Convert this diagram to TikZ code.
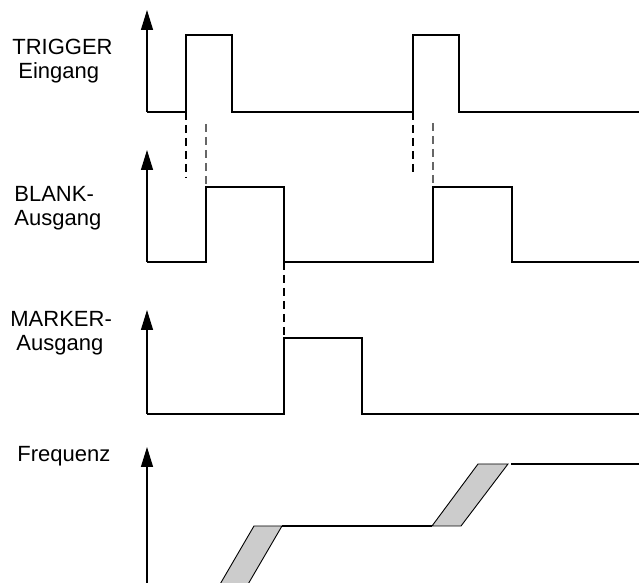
\documentclass[tikz,border=0pt]{standalone}
\usepackage{fontspec}
\setmainfont{Liberation Sans}
\usepackage{tikz}
\usetikzlibrary{arrows.meta}

\begin{document}
\begin{tikzpicture}[
  x=0.5pt,y=-0.5pt,
  lbl/.style={align=left,anchor=north west,inner sep=0pt,
              font=\fontsize{11}{12}\selectfont},
  sig/.style={line width=0.65pt,color=black},
  axis/.style={-{Triangle[length=10pt,width=6pt]},line width=0.65pt},
  guide/.style={dash pattern=on 4pt off 2.5pt,line width=0.55pt},
  ramp/.style={draw=black,line width=0.45pt,fill=black!20}
]
\useasboundingbox (0,0) rectangle (639,583);
% labels
\node[lbl] (trg) at (12,39) {TRIGGER\\\hspace{3pt}Eingang};
\node[lbl] (blk) at (14,186) {BLANK-\\Ausgang};
\node[lbl] (mrk) at (10,311) {MARKER-\\\hspace{3pt}Ausgang};
\node[lbl] (frq) at (17,446) {Frequenz};
% axes
\foreach \name/\ylow/\ytop in {trg/112/10,blk/262/150,mrk/414/310,frq/583/447}{
  \coordinate (\name0) at (147,\ylow);
  \coordinate (\name1) at (147,\ytop);
  \draw[axis] (\name0) -- (\name1);
}
% trigger input
\draw[sig] (trg0) -- (186,112) -- (186,35) -- (232,35) -- (232,112)
  -- (413,112) -- (413,35) -- (459,35) -- (459,112) -- (639,112);
% blank output
\draw[sig] (blk0) -- (206,262) -- (206,187) -- (284,187) -- (284,262)
  -- (433,262) -- (433,187) -- (512,187) -- (512,262) -- (639,262);
% marker output
\draw[sig] (mrk0) -- (284,414) -- (284,338) -- (362,338) -- (362,414)
  -- (639,414);
% frequency
\begin{scope}
\clip (0,0) rectangle (639,583);
\draw[ramp] (219,586) -- (254,526) -- (282,526) -- (247,586) -- cycle;
\end{scope}
\draw[ramp] (432,526) -- (478,464) -- (508,464) -- (461,526) -- cycle;
\draw[sig] (282,526) -- (432,526);
\draw[sig] (511,464) -- (639,464);
% timing guides
\draw[guide] (186,112) -- (186,178);
\draw[guide,color=black!60] (206,124) -- (206,187);
\draw[guide] (413,112) -- (413,176);
\draw[guide,color=black!60] (433,123) -- (433,187);
\draw[guide] (284,262) -- (284,336);
\end{tikzpicture}
\end{document}
